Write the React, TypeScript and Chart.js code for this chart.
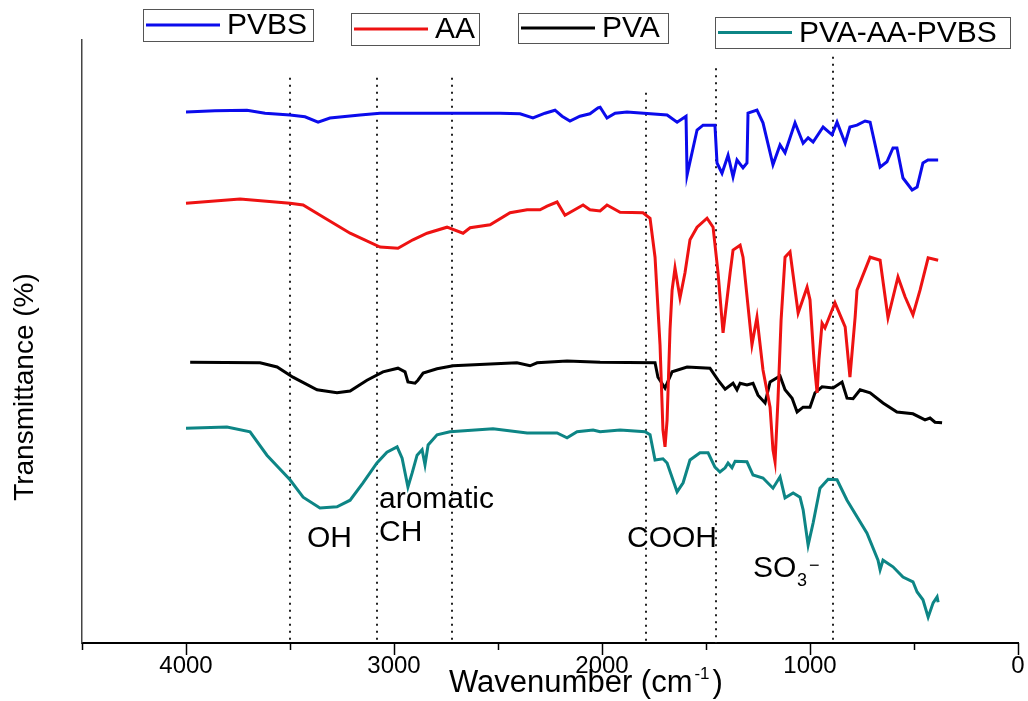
import React, { useEffect, useRef } from "react";
import { Chart, registerables } from "chart.js";

Chart.register(...registerables);

// ---------- DATA (wavenumber in cm-1, transmittance in arbitrary offset %) ----------
const pvbsWn = [4000, 3861, 3707, 3620, 3500, 3428, 3365, 3308, 3163, 3067, 2731, 2490, 2394, 2332, 2274, 2226, 2192, 2154, 2106, 2058, 2019, 2009, 1976, 1937, 1880, 1687, 1639, 1596, 1591, 1543, 1514, 1457, 1447, 1423, 1394, 1370, 1351, 1322, 1303, 1298, 1255, 1226, 1178, 1144, 1120, 1072, 1033, 1009, 985, 937, 894, 870, 831, 808, 774, 735, 711, 663, 630, 601, 582, 553, 509, 485, 457, 433, 384];
const pvbsT = [88.5, 88.7, 88.8, 88.3, 88.0, 87.7, 86.8, 87.5, 88.0, 88.3, 88.3, 88.3, 88.2, 87.5, 88.3, 88.8, 87.8, 87.0, 87.8, 88.2, 89.2, 89.3, 87.5, 88.3, 88.5, 88.0, 86.8, 87.8, 78.0, 85.5, 86.3, 86.3, 80.0, 78.3, 81.3, 77.7, 80.5, 79.2, 80.0, 88.3, 88.8, 86.7, 79.7, 83.0, 81.7, 86.7, 83.3, 84.2, 83.5, 86.0, 84.7, 86.8, 83.3, 86.0, 86.3, 87.0, 86.8, 79.3, 80.2, 82.5, 82.5, 77.5, 75.5, 76.0, 80.0, 80.5, 80.5];

const aaWn = [4000, 3740, 3500, 3437, 3341, 3211, 3067, 2981, 2909, 2841, 2745, 2668, 2634, 2538, 2442, 2360, 2298, 2264, 2216, 2178, 2091, 2058, 2009, 1976, 1913, 1803, 1769, 1745, 1721, 1707, 1697, 1687, 1673, 1663, 1649, 1625, 1601, 1577, 1543, 1495, 1466, 1442, 1418, 1384, 1370, 1336, 1322, 1279, 1255, 1226, 1192, 1178, 1168, 1154, 1139, 1120, 1096, 1057, 1014, 1000, 981, 966, 957, 942, 928, 880, 831, 808, 783, 774, 711, 663, 625, 577, 543, 505, 471, 432, 384];
const aaT = [73.3, 74.0, 73.3, 73.0, 71.0, 68.3, 66.0, 65.8, 67.2, 68.3, 69.3, 68.3, 69.2, 69.7, 71.7, 72.2, 72.2, 72.8, 73.5, 71.3, 73.0, 72.2, 72.0, 73.0, 71.8, 71.7, 70.8, 64.3, 49.7, 35.5, 32.7, 37.2, 52.2, 58.8, 62.5, 57.5, 61.7, 67.2, 69.3, 70.8, 69.3, 61.7, 51.7, 61.7, 65.5, 66.3, 64.3, 49.7, 54.3, 45.5, 39.3, 32.2, 30.2, 40.5, 53.8, 64.3, 65.2, 55.0, 59.3, 57.2, 47.2, 41.7, 47.2, 53.3, 52.5, 56.7, 52.7, 44.3, 54.3, 58.8, 64.3, 63.8, 54.2, 61.0, 57.7, 54.7, 58.8, 64.2, 63.8];

const pvaWn = [3980, 3644, 3562, 3486, 3370, 3274, 3211, 3130, 3053, 2981, 2947, 2933, 2899, 2885, 2860, 2793, 2716, 2409, 2346, 2312, 2168, 2009, 1745, 1731, 1697, 1663, 1591, 1481, 1442, 1408, 1370, 1351, 1336, 1303, 1274, 1250, 1216, 1192, 1144, 1120, 1086, 1062, 1033, 1000, 976, 942, 889, 846, 822, 793, 759, 711, 649, 582, 505, 447, 423, 399, 365];
const pvaT = [46.8, 46.7, 46.0, 44.3, 42.2, 41.7, 42.0, 43.8, 45.2, 45.8, 45.2, 43.5, 43.3, 43.8, 45.0, 45.7, 46.2, 46.7, 46.2, 46.7, 47.0, 46.8, 46.7, 44.3, 42.5, 45.2, 46.0, 45.8, 43.8, 42.3, 43.3, 42.2, 43.3, 43.0, 43.3, 41.3, 40.0, 43.5, 44.5, 42.2, 40.8, 38.5, 39.3, 39.3, 41.7, 42.7, 42.5, 43.5, 40.8, 40.7, 42.2, 41.7, 40.0, 38.5, 38.2, 37.2, 37.5, 36.8, 36.7];

const blendWn = [4000, 3803, 3692, 3611, 3500, 3437, 3356, 3274, 3211, 3149, 3082, 3034, 2985, 2961, 2933, 2913, 2889, 2865, 2851, 2836, 2793, 2731, 2524, 2360, 2216, 2168, 2120, 2043, 2009, 1913, 1793, 1769, 1745, 1707, 1687, 1639, 1610, 1577, 1529, 1490, 1457, 1433, 1408, 1394, 1375, 1360, 1303, 1274, 1226, 1178, 1144, 1120, 1081, 1048, 1033, 1009, 985, 952, 913, 870, 822, 726, 673, 663, 649, 601, 553, 505, 485, 457, 432, 408, 389, 384];
const blendT = [35.8, 36.0, 35.2, 31.3, 27.2, 24.3, 22.5, 22.7, 23.8, 26.7, 30.0, 31.8, 32.7, 30.8, 26.0, 28.3, 31.3, 32.2, 29.7, 33.0, 34.7, 35.2, 35.7, 35.0, 35.0, 34.2, 35.2, 35.5, 35.2, 35.5, 35.2, 34.7, 30.5, 30.7, 30.0, 25.2, 26.7, 30.5, 31.7, 31.7, 29.3, 28.5, 29.2, 30.0, 29.2, 30.3, 30.2, 28.0, 27.5, 25.8, 27.7, 24.2, 25.0, 24.3, 22.2, 16.3, 20.0, 25.8, 27.3, 27.2, 23.8, 18.3, 13.8, 12.2, 13.8, 12.7, 11.0, 10.2, 8.5, 7.2, 4.3, 6.7, 7.7, 6.8];

const seriesNames = ["PVBS", "AA", "PVA", "PVA-AA-PVBS"];
const seriesColors = ["#0b0bec", "#ee1212", "#000000", "#0d8585"];

const xTickValues = [4500, 4000, 3500, 3000, 2500, 2000, 1500, 1000, 500, 0];
const markerWn = [3500, 3080, 2720, 1790, 1450, 890];
const markerTop = [94.2, 94.2, 94.2, 91.7, 95.8, 97.7];

const FONT = '"Liberation Sans", Arial, Helvetica, sans-serif';

const toPoints = (wn: number[], t: number[]) => wn.map((w, i) => ({ x: w, y: t[i] }));

const legendBoxes = [
  { x: 143, y: 9, w: 170, h: 32 },
  { x: 351, y: 13, w: 128, h: 32 },
  { x: 518, y: 13, w: 150, h: 30 },
  { x: 715, y: 17, w: 295, h: 31 },
];

const overlayPlugin = {
  id: "overlay",
  beforeDatasetsDraw(chart: any) {
    const { ctx, scales } = chart;
    const xs = scales.x;
    const ys = scales.y;
    const bottom = chart.chartArea.bottom;
    ctx.save();
    ctx.strokeStyle = "#222";
    ctx.lineWidth = 2;
    ctx.setLineDash([2, 5]);
    markerWn.forEach((w, i) => {
      const px = Math.round(xs.getPixelForValue(w));
      ctx.beginPath();
      ctx.moveTo(px, ys.getPixelForValue(markerTop[i]));
      ctx.lineTo(px, bottom);
      ctx.stroke();
    });
    ctx.restore();
  },
  afterDraw(chart: any) {
    const { ctx, scales } = chart;
    const xs = scales.x;
    const bottom = chart.chartArea.bottom;
    ctx.save();
    // x tick marks
    ctx.strokeStyle = "#000";
    ctx.lineWidth = 1.5;
    xTickValues.forEach((v) => {
      const px = Math.round(xs.getPixelForValue(v)) + 0.5;
      const len = v % 1000 === 0 ? 12 : 7;
      ctx.beginPath();
      ctx.moveTo(px, bottom);
      ctx.lineTo(px, bottom + len);
      ctx.stroke();
    });

    ctx.fillStyle = "#000";
    // x title
    ctx.textAlign = "left";
    ctx.textBaseline = "alphabetic";
    let x = 449;
    const base = 692;
    ctx.font = `31px ${FONT}`;
    ctx.fillText("Wavenumber (cm", x, base);
    x += ctx.measureText("Wavenumber (cm").width + 2;
    ctx.font = `17px ${FONT}`;
    ctx.fillText("-1", x, base - 13);
    x += ctx.measureText("-1").width + 3;
    ctx.font = `31px ${FONT}`;
    ctx.fillText(")", x, base);

    // y title
    ctx.save();
    ctx.translate(33, 387);
    ctx.rotate(-Math.PI / 2);
    ctx.textAlign = "center";
    ctx.font = `28px ${FONT}`;
    ctx.fillText("Transmittance (%)", 0, 0);
    ctx.restore();

    // annotations
    ctx.font = `30px ${FONT}`;
    ctx.textAlign = "left";
    ctx.fillText("OH", 307, 547);
    ctx.fillText("aromatic", 379, 508);
    ctx.fillText("CH", 379, 541);
    ctx.fillText("COOH", 627, 547);
    ctx.fillText("SO", 753, 577);
    ctx.font = `18px ${FONT}`;
    ctx.fillText("3", 797, 586);
    ctx.fillText("\u2212", 809, 571);

    // legend
    legendBoxes.forEach((b, i) => {
      ctx.strokeStyle = "#555";
      ctx.lineWidth = 1;
      ctx.setLineDash([]);
      ctx.strokeRect(b.x + 0.5, b.y + 0.5, b.w, b.h);
      const cy = b.y + b.h / 2;
      ctx.strokeStyle = seriesColors[i];
      ctx.lineWidth = 3;
      ctx.beginPath();
      ctx.moveTo(b.x + 3, cy);
      ctx.lineTo(b.x + 77, cy);
      ctx.stroke();
      ctx.fillStyle = "#000";
      ctx.font = `30px ${FONT}`;
      ctx.textBaseline = "middle";
      ctx.fillText(seriesNames[i], b.x + 84, cy + 1);
    });
    ctx.restore();
  },
};

export default function App() {
  const ref = useRef<HTMLCanvasElement | null>(null);
  useEffect(() => {
    if (!ref.current) return;
    const data = [
      toPoints(pvbsWn, pvbsT),
      toPoints(aaWn, aaT),
      toPoints(pvaWn, pvaT),
      toPoints(blendWn, blendT),
    ];
    const chart = new Chart(ref.current, {
      type: "line",
      data: {
        datasets: data.map((d, i) => ({
          label: seriesNames[i],
          data: d,
          borderColor: seriesColors[i],
          backgroundColor: seriesColors[i],
          borderWidth: 3,
          pointRadius: 0,
          tension: 0,
          fill: false,
        })),
      },
      options: {
        responsive: false,
        animation: false,
        layout: { padding: { top: 40, right: 10, left: 0, bottom: 0 } },
        plugins: { legend: { display: false }, tooltip: { enabled: false } },
        scales: {
          x: {
            type: "linear",
            min: 0,
            max: 4500,
            reverse: true,
            grid: { display: false },
            border: { display: true, color: "#000", width: 2 },
            ticks: {
              stepSize: 500,
              autoSkip: false,
              maxRotation: 0,
              padding: 1,
              color: "#000",
              font: { size: 24, family: FONT },
              callback: (v: any) => (Number(v) % 1000 === 0 ? String(v) : ""),
            },
            afterFit: (s: any) => {
              s.height = 58;
            },
          },
          y: {
            type: "linear",
            min: 0,
            max: 100.5,
            grid: { display: false },
            border: { display: true, color: "#444", width: 1.5 },
            ticks: { display: false },
            afterFit: (s: any) => {
              s.width = 82;
            },
          },
        },
      },
      plugins: [overlayPlugin],
    });
    return () => chart.destroy();
  }, []);
  return (
    <div style={{ position: "absolute", left: 0, top: 0, width: 1028, height: 701, background: "#fff" }}>
      <canvas ref={ref} width={1028} height={701} />
    </div>
  );
}
